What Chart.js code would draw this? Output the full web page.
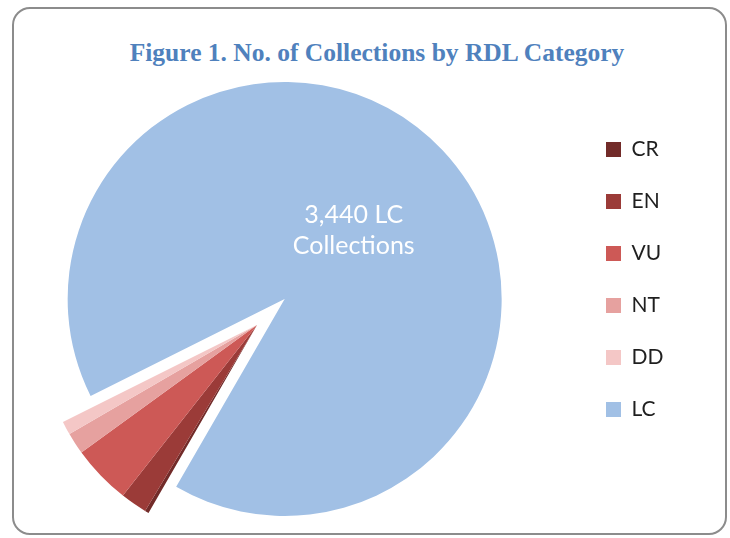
<!DOCTYPE html>
<html>
<head>
<meta charset="utf-8">
<title>Figure 1. No. of Collections by RDL Category</title>
<script src="https://cdn.jsdelivr.net/npm/chart.js@4.4.1/dist/chart.umd.min.js"></script>
<style>
  html, body { margin: 0; padding: 0; background: #fff; overflow: hidden; width: 730px; height: 538px; }
  #frame {
    position: absolute; left: 12px; top: 7px; width: 711px; height: 524px;
    border: 2px solid #8c8c8c; border-radius: 18px;
  }
  #title {
    position: absolute; left: 24px; right: 0; top: 38px; height: 30px; line-height: 30px;
    text-align: center; font: bold 25.5px 'Liberation Serif', serif; color: #4f81bd;
  }
  #box { position: absolute; left: -61px; top: 0; width: 726px; height: 542px; }
</style>
</head>
<body>
<div id="frame"></div>
<div id="title">Figure 1. No. of Collections by RDL Category</div>
<div id="box"><canvas id="pie-chart"></canvas></div>
<script>
  // RDL categories and number of collections in each
  const categories = ['CR', 'EN', 'VU', 'NT', 'DD', 'LC'];
  const collections = [11, 75, 167, 61, 38, 3440];
  const sliceColors = ['#722b29', '#9b3b38', '#cd5956', '#e6a19f', '#f4c7c6', '#a1c0e5'];
  // how far each slice is pulled out from the centre (px)
  const explodeBy = [0, 0, 0, 0, 0, 38];

  // draws the arcs ourselves so a slice can be pulled out without growing
  const explodePlugin = {
    id: 'explode',
    beforeDatasetDraw(chart, args) {
      const ctx = chart.ctx;
      args.meta.data.forEach((arc, i) => {
        const d = explodeBy[i] || 0;
        const mid = (arc.startAngle + arc.endAngle) / 2;
        ctx.save();
        ctx.translate(Math.cos(mid) * d, Math.sin(mid) * d);
        arc.draw(ctx, chart.chartArea);
        ctx.restore();
      });
      return false;
    },
  };

  // white text label inside the LC slice
  const sliceLabel = {
    id: 'sliceLabel',
    afterDatasetsDraw(chart) {
      const i = categories.indexOf('LC');
      const arc = chart.getDatasetMeta(0).data[i];
      const mid = (arc.startAngle + arc.endAngle) / 2;
      const d = explodeBy[i] + arc.outerRadius * 0.45;
      const x = arc.x + Math.cos(mid) * d;
      const y = arc.y + Math.sin(mid) * d;
      const ctx = chart.ctx;
      ctx.save();
      ctx.fillStyle = '#ffffff';
      ctx.font = '25px Lato, sans-serif';
      ctx.textAlign = 'center';
      ctx.textBaseline = 'middle';
      ctx.fillText(collections[i].toLocaleString('en-US') + ' ' + categories[i], x - 2, y - 17);
      ctx.fillText('Collections', x - 2, y + 14);
      ctx.restore();
    },
  };

  const ctx = document.getElementById('pie-chart').getContext('2d');
  new Chart(ctx, {
    type: 'pie',
    data: {
      labels: categories,
      datasets: [{
        data: collections,
        backgroundColor: sliceColors,
        borderWidth: 0,
      }],
    },
    options: {
      responsive: true,
      maintainAspectRatio: false,
      animation: false,
      rotation: 210,
      radius: 217,
      layout: { padding: { top: 108, left: 0, right: 0, bottom: 0 } },
      plugins: {
        tooltip: { enabled: false },
        legend: {
          position: 'right',
          align: 'start',
          maxWidth: 90,
          labels: {
            boxWidth: 15,
            boxHeight: 15,
            padding: 31,
            color: '#1f1f1f',
            font: { family: 'Lato', size: 21 },
          },
        },
      },
    },
    plugins: [explodePlugin, sliceLabel],
  });
</script>
</body>
</html>
